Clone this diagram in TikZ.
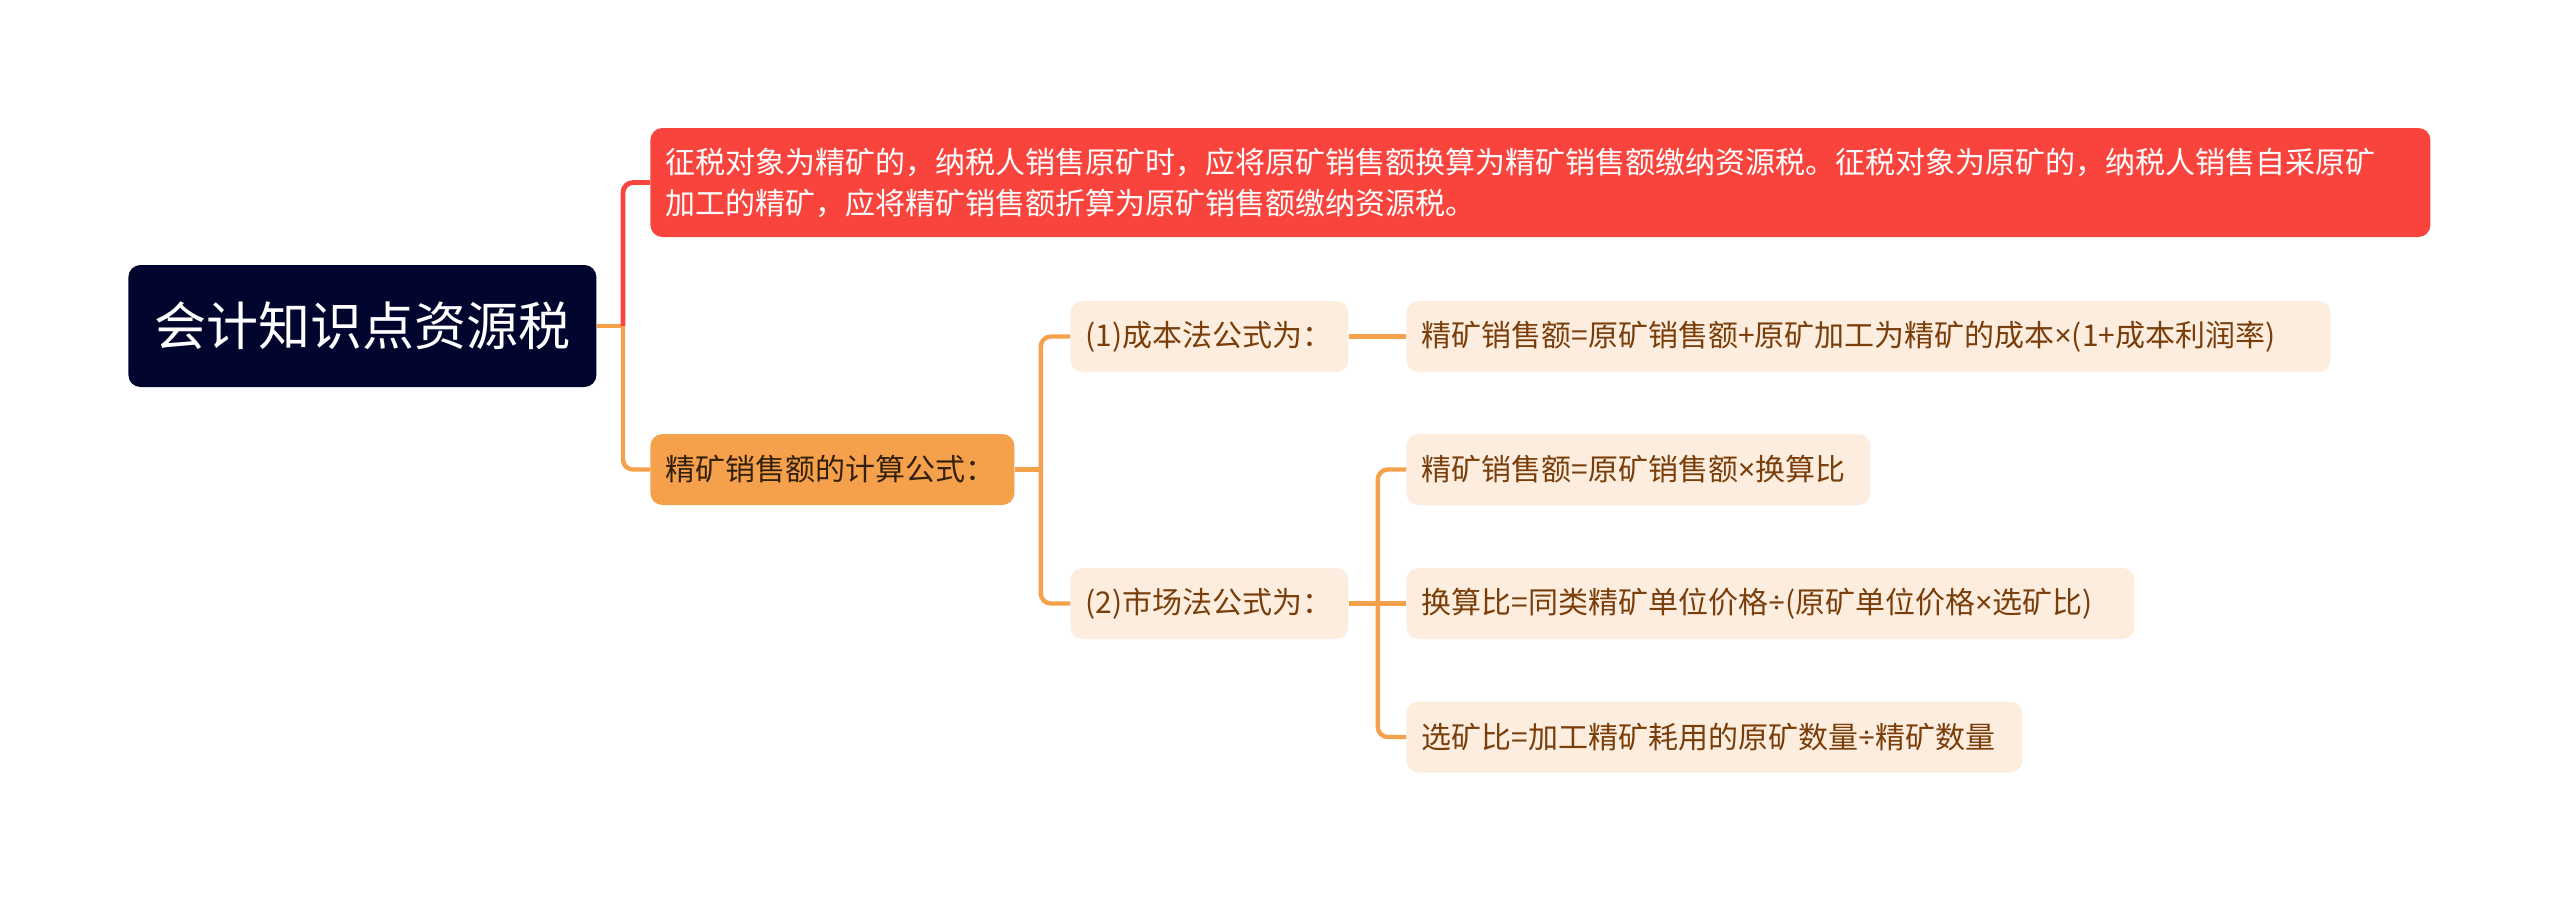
\documentclass[tikz,border=0pt]{standalone}
\usepackage{fontspec}
\usepackage{tikz}
\usetikzlibrary{positioning,calc}
\newfontfamily\cjk{Noto Sans CJK SC}
\newfontfamily\lat{Noto Sans}
\newcommand{\tms}{{\lat ×}}
\newcommand{\dvs}{{\lat ÷}}
\definecolor{rootbg}{HTML}{02052E}
\definecolor{redbg}{HTML}{F9443E}
\definecolor{orgbg}{HTML}{F5A04B}
\definecolor{subbg}{HTML}{FDEDDE}
\definecolor{subtxt}{HTML}{7A3E0B}
\definecolor{orgtxt}{HTML}{33200D}

\begin{document}
\begin{tikzpicture}[
      x=0.5pt, y=-0.5pt,
      every node/.style={font=\cjk\fontsize{15}{20.5}\selectfont},
      topic/.style={rounded corners=6pt, inner xsep=7.5pt, inner ysep=0pt,
                    minimum height=35.5pt, align=left, anchor=west},
      sub/.style={topic, fill=subbg, text=subtxt},
      oline/.style={draw=orgbg, line width=2.2pt, rounded corners=5pt},
      rline/.style={draw=redbg, line width=2.4pt, rounded corners=5pt}
  ]
    \fill[white] (0,0) rectangle (2560,901);
    \useasboundingbox (0,0) rectangle (2560,901);

    % --- root ---
    \node[fill=rootbg, text=white, rounded corners=6pt, anchor=west,
          minimum width=234pt, minimum height=61pt, inner sep=0pt,
          font=\cjk\fontsize{26}{31}\selectfont] (root) at (128,326) {会计知识点资源税};

    % --- first level ---
    \node[topic, fill=redbg, text=white, minimum height=54.5pt, text width=875pt]
          (def) at (650,182.5)
          {征税对象为精矿的，纳税人销售原矿时，应将原矿销售额换算为精矿销售额缴纳资源税。征税对象为原矿的，纳税人销售自采原矿\\加工的精矿，应将精矿销售额折算为原矿销售额缴纳资源税。};
    \node[topic, fill=orgbg, text=orgtxt, text width=167pt] (calc) at (650,469.5)
          {精矿销售额的计算公式：};

    % --- second level ---
    \node[sub, text width=124pt] (cost) at (1070,336.5) {(1)成本法公式为：};
    \node[sub, text width=124pt] (mkt) at (1070,603.5) {(2)市场法公式为：};

    % --- formulas ---
    \node[sub, text width=447pt] (costf) at (1406,336.5)
          {精矿销售额=原矿销售额+原矿加工为精矿的成本\tms(1+成本利润率)};
    \node[sub, text width=217pt] (m1) at (1406,469.5) {精矿销售额=原矿销售额\tms 换算比};
    \node[sub, text width=349pt] (m2) at (1406,603.5) {换算比=同类精矿单位价格\dvs(原矿单位价格\tms 选矿比)};
    \node[sub, text width=293pt] (m3) at (1406,737) {选矿比=加工精矿耗用的原矿数量\dvs 精矿数量};

    % --- connectors ---
    \coordinate (j0) at (623,326);
    \coordinate (j1) at ($(calc.east)+(26,0)$);
    \coordinate (j2) at ($(mkt.east)+(29,0)$);

    \draw[oline] (root.east) -- (j0);
    \draw[rline] (j0) |- (def.west);
    \draw[oline] (j0) |- (calc.west);

    \draw[oline] (calc.east) -- (j1);
    \draw[oline] (j1) |- (cost.west);
    \draw[oline] (j1) |- (mkt.west);

    \draw[oline] (cost.east) -- (costf.west);
    \draw[oline] (mkt.east) -- (m2.west);
    \draw[oline] (j2) |- (m1.west);
    \draw[oline] (j2) |- (m3.west);

\end{tikzpicture}
\end{document}
